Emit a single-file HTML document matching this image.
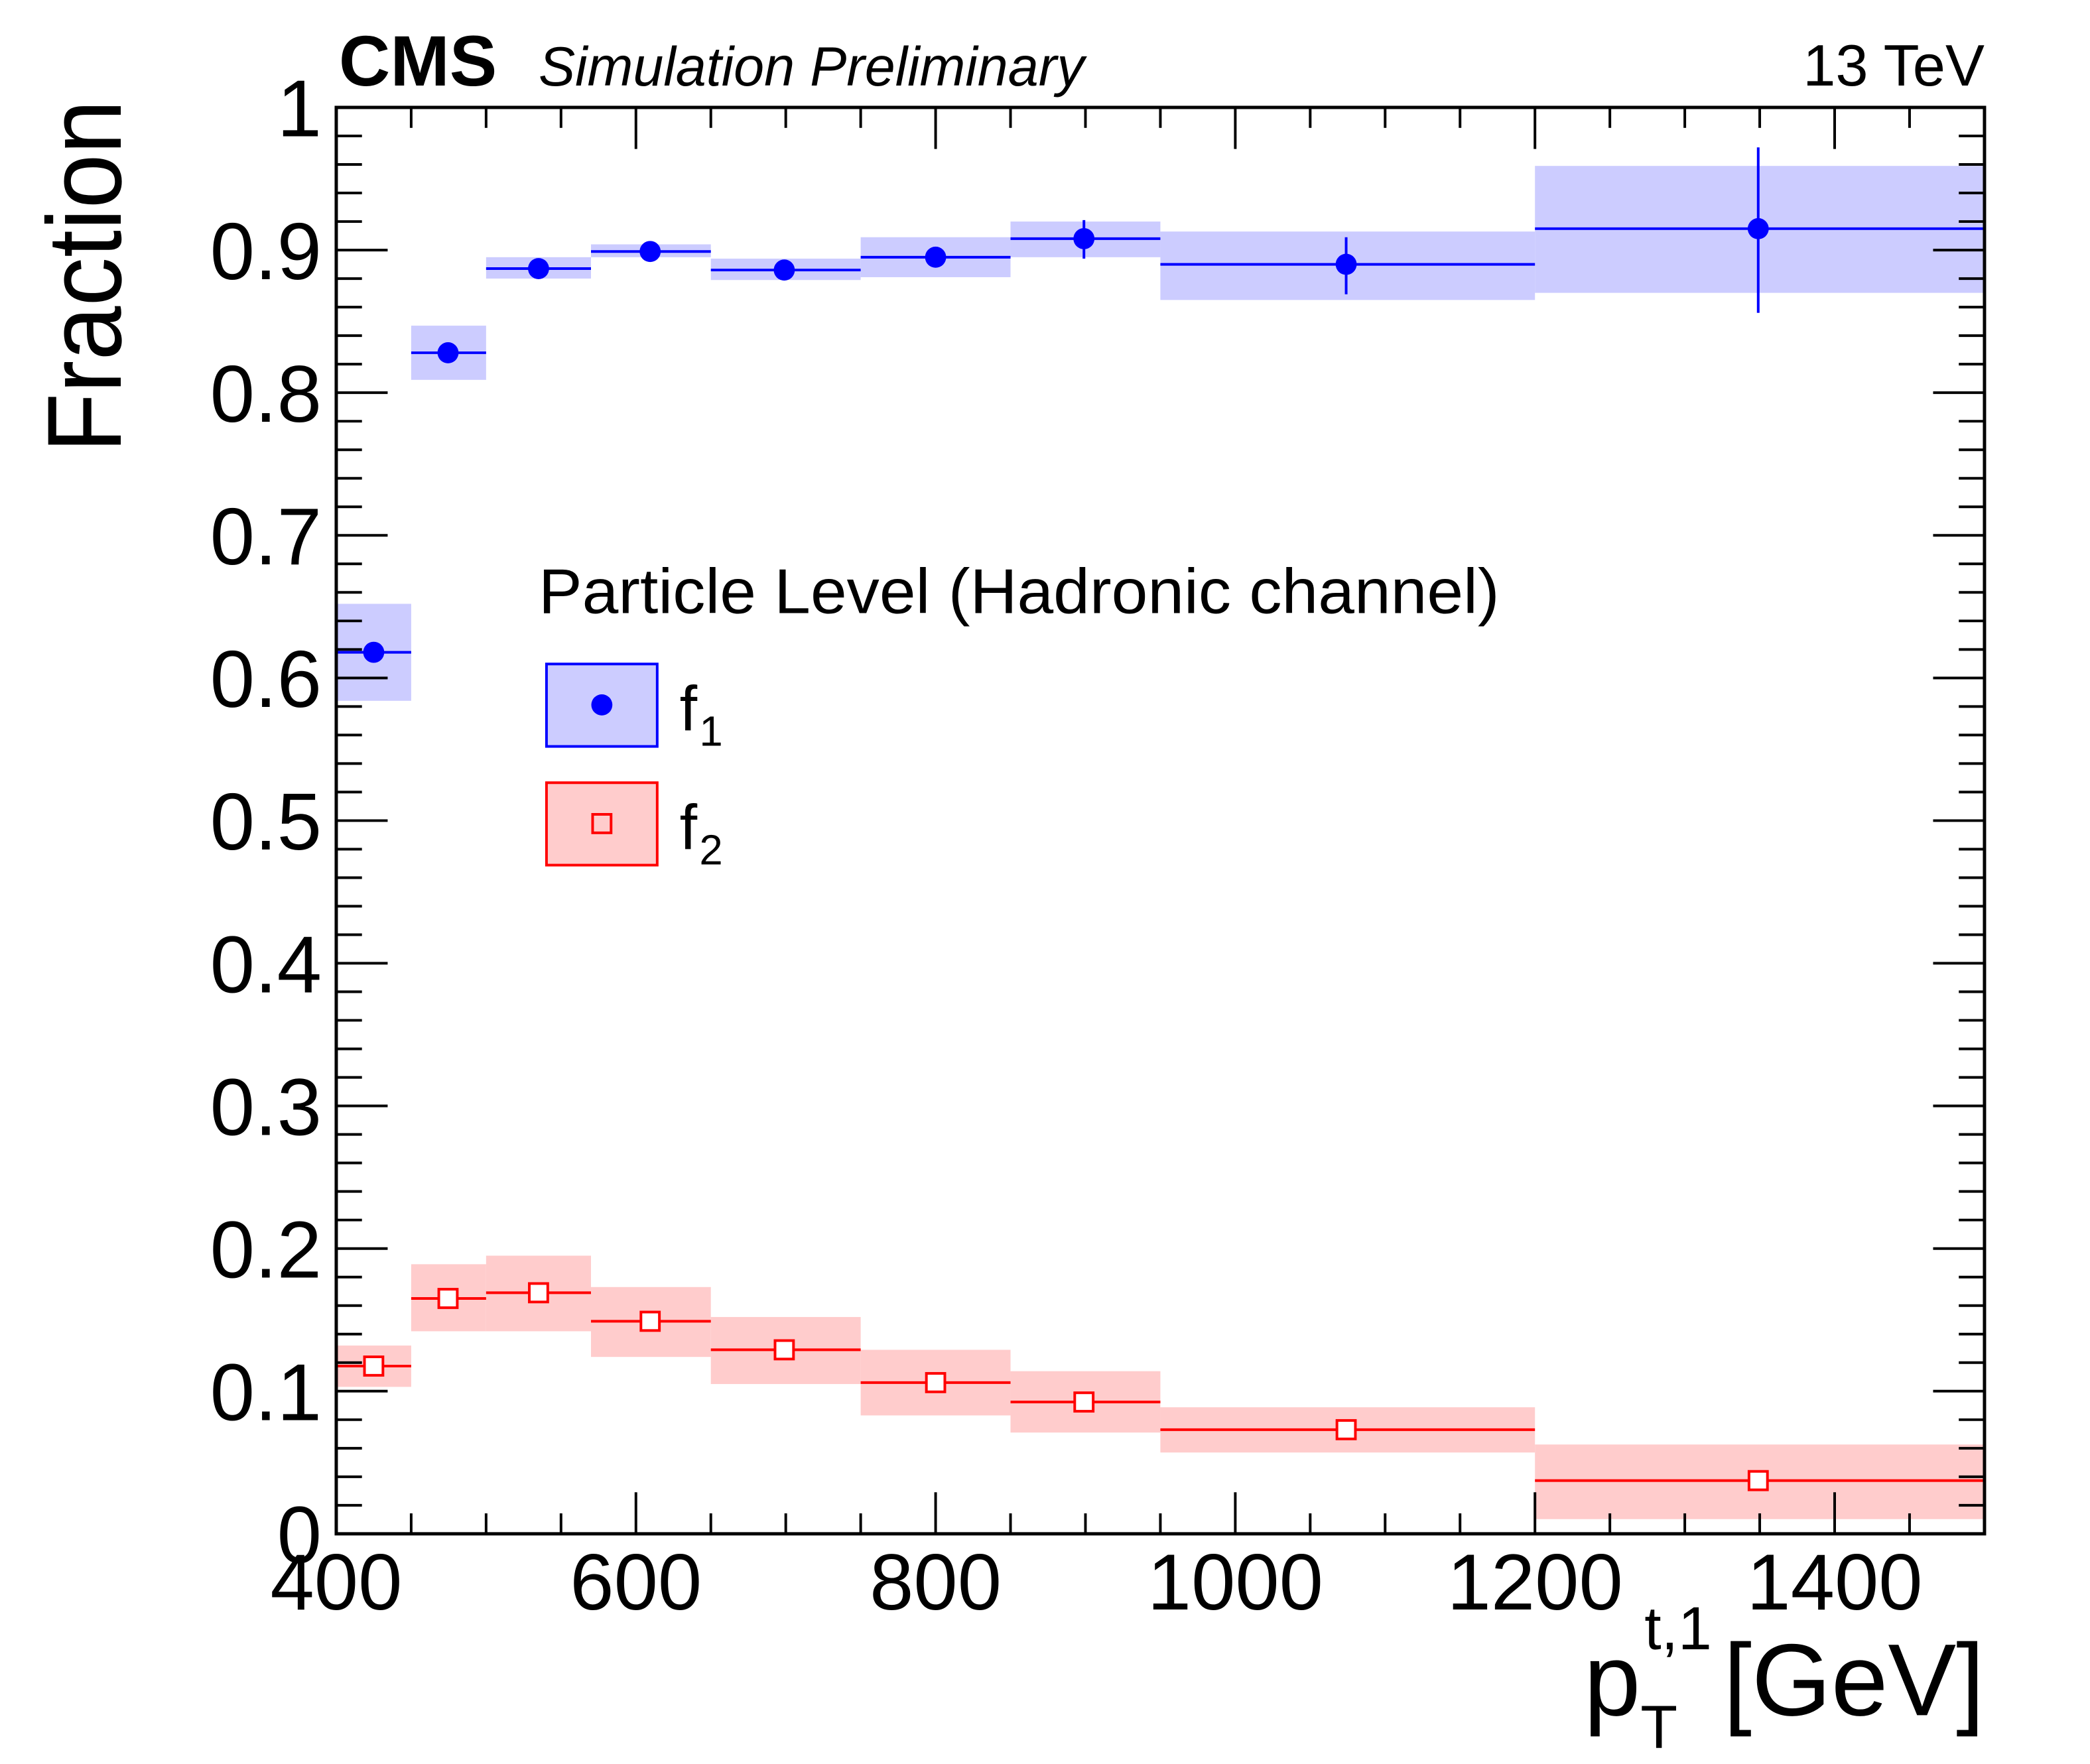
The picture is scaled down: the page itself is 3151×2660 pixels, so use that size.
<!DOCTYPE html>
<html><head><meta charset="utf-8"><style>
html,body{margin:0;padding:0;background:#fff;}
svg{display:block;}
text{font-family:"Liberation Sans",sans-serif;fill:#000;}
</style></head><body>
<svg id="s" xmlns="http://www.w3.org/2000/svg" width="3151" height="2660" viewBox="0 0 3151 2660">
<rect width="3151" height="2660" fill="#fff"/>
<g transform="matrix(0.9936,0,0,0.9944,3.2,0.9)">
<g id="bands"></g>
<g id="data"></g>
<g id="axes"></g>
<text x="511" y="129" font-size="108" font-weight="bold" textLength="240" lengthAdjust="spacingAndGlyphs">CMS</text>
<text x="814" y="129" font-size="84" font-style="italic" textLength="828" lengthAdjust="spacingAndGlyphs">Simulation Preliminary</text>
<text x="3008" y="129" font-size="89" text-anchor="end">13 TeV</text>
<text transform="translate(180,418) rotate(-90)" font-size="160" text-anchor="middle" textLength="535" lengthAdjust="spacingAndGlyphs">Fraction</text>
<text x="814" y="929" font-size="96" textLength="1458" lengthAdjust="spacingAndGlyphs">Particle Level (Hadronic channel)</text>
<rect x="826" y="1006" width="168" height="125" fill="#ccccff" stroke="#0000ff" stroke-width="4"/>
<circle cx="910" cy="1068" r="16" fill="#0000ff"/>
<text x="1028" y="1107" font-size="96">f</text><text x="1058" y="1130" font-size="64">1</text>
<rect x="826" y="1186" width="168" height="125" fill="#ffcccc" stroke="#ff0000" stroke-width="4"/>
<rect x="896" y="1234" width="28" height="28" fill="none" stroke="#ff0000" stroke-width="4"/>
<text x="1028" y="1287" font-size="96">f</text><text x="1058" y="1310" font-size="64">2</text>
<text x="3008" y="2600" font-size="155" text-anchor="end">[GeV]</text>
<text x="2400" y="2600" font-size="155">p</text>
<text x="2492" y="2500" font-size="92">t,1</text>
<text x="2486" y="2650" font-size="92">T</text>
</g>
</svg>
<script>
const NS="http://www.w3.org/2000/svg";
const X=v=>507+(v-400)*2.2736, Y=f=>2325-f*2163;
function el(p,t,a){const e=document.createElementNS(NS,t);for(const k in a)e.setAttribute(k,a[k]);document.getElementById(p).appendChild(e);return e;}
const edges=[400,450,500,570,650,750,850,950,1200,1500];
const f1=[[425,.618,.652,.584,.624,.612],[474.6,.828,.847,.809,.832,.824],[535,.887,.895,.880,.890,.884],[609.5,.899,.904,.895,.902,.896],[699,.886,.894,.879,.889,.883],[800,.895,.909,.881,.902,.888],[899,.908,.920,.895,.921,.894],[1074,.890,.913,.865,.909,.869],[1349,.915,.959,.870,.972,.856]];
const f2=[[425,.1176,.132,.103],[474.6,.165,.189,.142],[535,.169,.195,.142],[609.5,.149,.173,.124],[699,.129,.152,.105],[800,.106,.129,.083],[899,.0924,.114,.071],[1074,.073,.0887,.057],[1349,.0373,.0626,.0103]];
for(let i=0;i<9;i++){
 const x0=X(edges[i]),x1=X(edges[i+1]);
 let d=f1[i];
 el("bands","rect",{x:x0,y:Y(d[2]),width:x1-x0,height:Y(d[3])-Y(d[2]),fill:"#ccccff"});
 el("data","line",{x1:x0,x2:x1,y1:Y(d[1]),y2:Y(d[1]),stroke:"#0000ff","stroke-width":4});
 el("data","line",{x1:X(d[0]),x2:X(d[0]),y1:Y(d[4]),y2:Y(d[5]),stroke:"#0000ff","stroke-width":4});
 el("data","circle",{cx:X(d[0]),cy:Y(d[1]),r:16,fill:"#0000ff"});
 d=f2[i];
 el("bands","rect",{x:x0,y:Y(d[2]),width:x1-x0,height:Y(d[3])-Y(d[2]),fill:"#ffcccc"});
 el("data","line",{x1:x0,x2:x1,y1:Y(d[1]),y2:Y(d[1]),stroke:"#ff0000","stroke-width":4});
 el("data","rect",{x:X(d[0])-14,y:Y(d[1])-14,width:28,height:28,fill:"#fff",stroke:"#ff0000","stroke-width":4});
}
const L=507,R=3008,T=162,B=2325;
for(let k=0;k<=50;k++){const y=Y(k*0.02);const len=k%5==0?78:39;
 el("axes","line",{x1:L,x2:L+len,y1:y,y2:y,stroke:"#000","stroke-width":4});
 el("axes","line",{x1:R,x2:R-len,y1:y,y2:y,stroke:"#000","stroke-width":4});
 if(k%5==0){const t=el("axes","text",{x:485,y:y+44,"font-size":122,"text-anchor":"end"});
  let s=(k/50).toFixed(1);if(k==0)s="0";if(k==50)s="1";t.textContent=s;}
}
for(let v=400;v<=1500;v+=50){const x=X(v);const len=v%200==0?63:31;
 el("axes","line",{x1:x,x2:x,y1:B,y2:B-len,stroke:"#000","stroke-width":4});
 el("axes","line",{x1:x,x2:x,y1:T,y2:T+len,stroke:"#000","stroke-width":4});
 if(v%200==0&&v<=1400){const t=el("axes","text",{x:x,y:2440,"font-size":120,"text-anchor":"middle"});t.textContent=v;}
}
el("axes","rect",{x:L,y:T,width:R-L,height:B-T,fill:"none",stroke:"#000","stroke-width":5});
</script>
</body></html>
